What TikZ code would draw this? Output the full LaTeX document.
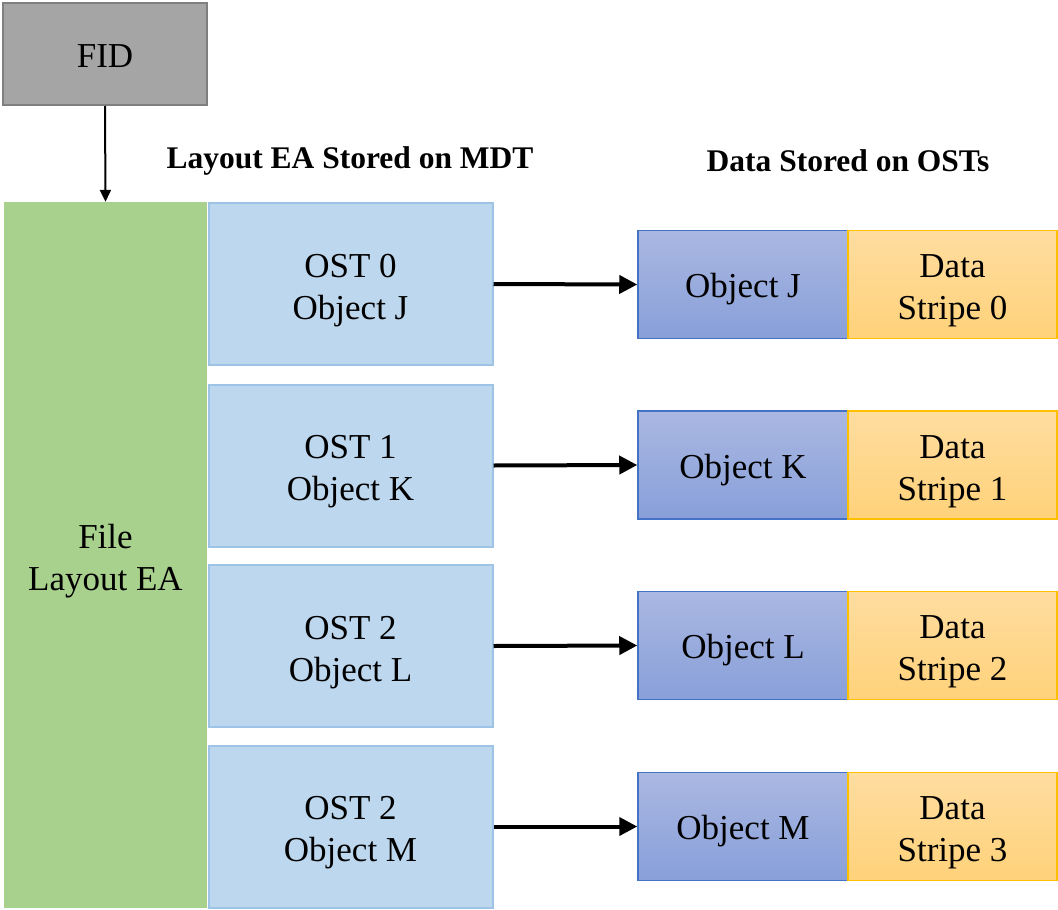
\documentclass[tikz,border=0pt]{standalone}
\usepackage{fontspec}
\setmainfont{Liberation Serif}
\usetikzlibrary{arrows.meta}
\definecolor{fidfill}{HTML}{A5A5A5}
\definecolor{fiddraw}{HTML}{7F7F7F}
\definecolor{greenfill}{HTML}{A9D18E}
\definecolor{ostfill}{HTML}{BDD7EE}
\definecolor{ostdraw}{HTML}{9DC3E6}
\definecolor{objtop}{HTML}{AAB8E2}
\definecolor{objbot}{HTML}{889FD9}
\definecolor{objdraw}{HTML}{4472C4}
\definecolor{datatop}{HTML}{FFDDA0}
\definecolor{databot}{HTML}{FFD27A}
\definecolor{datadraw}{HTML}{FFC000}
\newcommand\tstrut{\rule{0pt}{36pt}}
\tikzset{
  box/.style={rectangle, inner sep=0pt, align=center, font=\fontsize{35}{42}\selectfont},
  fidbox/.style={box, fill=fidfill, draw=fiddraw, line width=2pt, minimum width=204pt, minimum height=102pt,
    execute at begin node={\rule{0pt}{27pt}}},
  layoutbox/.style={box, fill=greenfill, minimum width=203pt, minimum height=706pt},
  ostbox/.style={box, fill=ostfill, draw=ostdraw, line width=2pt, minimum width=284pt, minimum height=162pt},
  objbox/.style={box, top color=objtop, bottom color=objbot, draw=objdraw, line width=1.5pt, minimum width=210pt, minimum height=108pt,
    execute at begin node={\rule{0pt}{34pt}}},
  databox/.style={box, top color=datatop, bottom color=databot, draw=datadraw, line width=1.5pt, minimum width=209pt, minimum height=108pt},
  heading/.style={font=\fontsize{31.5}{36}\selectfont\bfseries, inner sep=0pt},
  link/.style={line width=4pt, -{Triangle[length=18pt, width=18pt]}},
  thinlink/.style={line width=2pt, -{Triangle[length=12pt, width=11pt]}}
}
\begin{document}
\begin{tikzpicture}[x=1pt, y=-1pt]
\useasboundingbox (0,0) rectangle (1058,910);
\node[fidbox] (fid) at (105,54) {FID};
\node[layoutbox] (layout) at (105.5,555) {\tstrut File\\Layout EA};
\node[heading] (h1) at (350,161) {Layout EA Stored on MDT};
\node[heading] (h2) at (848,161) {Data Stored on OSTs};
\node[ostbox] (ost0) at (350.5,284) {\tstrut OST 0\\Object J};
\node[ostbox] (ost1) at (350.5,465.5) {\tstrut OST 1\\Object K};
\node[ostbox] (ost2) at (350.5,646) {\tstrut OST 2\\Object L};
\node[ostbox] (ost3) at (350.5,826.5) {\tstrut OST 2\\Object M};
\node[objbox] (objJ) at (743,284.5) {Object J};
\node[objbox] (objK) at (743,465) {Object K};
\node[objbox] (objL) at (743,645.5) {Object L};
\node[objbox] (objM) at (743,826.5) {Object M};
\node[databox] (d0) at (952.5,284.5) {\tstrut Data\\Stripe 0};
\node[databox] (d1) at (952.5,465) {\tstrut Data\\Stripe 1};
\node[databox] (d2) at (952.5,645.5) {\tstrut Data\\Stripe 2};
\node[databox] (d3) at (952.5,826.5) {\tstrut Data\\Stripe 3};
\draw[thinlink] (fid.south) -- (layout.north);
\draw[link] (ost0.east) -- (objJ.west);
\draw[link] (ost1.east) -- (objK.west);
\draw[link] (ost2.east) -- (objL.west);
\draw[link] (ost3.east) -- (objM.west);
\end{tikzpicture}
\end{document}
